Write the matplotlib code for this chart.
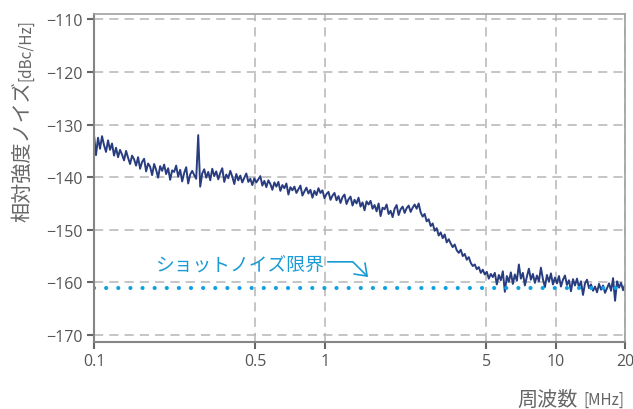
import numpy as np
import matplotlib
matplotlib.use("Agg")
import matplotlib.pyplot as plt

plt.rcParams['font.family'] = ['Noto Sans CJK JP', 'DejaVu Sans']

# 相対強度ノイズ [dBc/Hz], 0.1 MHz -> 20 MHz (log spaced sampling)
rin = [
    -132.0, -135.8, -132.5, -134.6, -132.2, -133.9, -135.2, -133.0, -134.8, -133.6,
    -135.9, -134.4, -136.2, -134.8, -135.7, -136.8, -135.0, -136.3, -137.5, -135.9,
    -136.6, -137.8, -136.2, -138.4, -137.1, -136.5, -138.9, -137.4, -138.0, -139.6,
    -137.5, -138.6, -140.1, -137.9, -138.8, -137.6, -139.4, -138.3, -140.5, -138.7,
    -139.0, -137.8, -139.9, -138.6, -140.8, -139.2, -138.1, -141.2, -139.5, -138.8,
    -139.6, -140.3, -132.0, -141.8, -139.3, -138.5, -140.1, -139.0, -140.6, -138.4,
    -139.8, -138.9, -140.4, -139.2, -138.3, -140.9, -139.5, -140.2, -138.8, -139.9,
    -141.3, -139.4, -140.6, -139.7, -141.0, -140.1, -139.3, -140.9, -140.3, -141.5,
    -140.2, -141.0, -140.4, -139.8, -141.6, -140.7, -141.9, -140.6, -141.3, -142.4,
    -141.0, -141.8, -140.9, -142.6, -141.5, -142.1, -141.2, -143.3, -141.9, -142.5,
    -141.8, -143.0, -142.3, -141.6, -143.5, -142.7, -142.0, -143.1, -142.4, -143.9,
    -142.6, -143.4, -142.1, -143.0, -142.5, -144.0, -143.2, -142.8, -144.3, -143.5,
    -143.0, -144.4, -143.6, -144.9, -143.8, -143.3, -145.1, -144.2, -143.7, -145.4,
    -144.3, -145.0, -143.9, -145.6, -144.8, -146.3, -144.6, -145.2, -144.5, -146.0,
    -145.3, -146.5, -145.0, -147.4, -145.8, -146.1, -145.2, -147.0, -146.4, -147.6,
    -146.0, -145.3, -147.2, -146.1, -145.6, -146.8, -145.9, -145.4, -146.6, -145.8,
    -145.2, -146.0, -145.0, -146.7, -147.5, -147.0, -148.4, -148.0, -149.3, -148.8,
    -150.2, -149.7, -151.1, -150.5, -151.6, -150.9, -152.4, -151.8, -152.6, -153.3,
    -152.8, -153.9, -154.4, -153.8, -155.0, -154.6, -155.7, -155.2, -156.3, -156.9,
    -156.6, -157.5, -157.1, -158.2, -157.6, -158.5, -158.0, -159.3, -158.4, -159.0,
    -158.2, -160.4, -158.6, -159.6, -157.9, -161.8, -158.8, -159.9, -158.1, -160.3,
    -158.5, -159.7, -156.6, -159.3, -158.2, -160.6, -158.9, -157.4, -159.5, -158.4,
    -160.1, -158.7, -159.8, -157.2, -159.4, -160.9, -158.6, -159.9, -158.3, -160.4,
    -159.1, -160.2, -158.8, -160.8, -159.5, -158.7, -160.5, -159.6, -161.7, -159.4,
    -160.6, -159.3, -160.9, -159.8, -162.4, -160.2, -159.5, -161.1, -160.4, -161.6,
    -160.8, -161.9, -160.3, -161.4, -160.6, -162.0, -161.1, -160.2, -161.6, -159.2,
    -163.5, -159.8, -161.0, -160.1, -161.5, -160.4,
]
freq = np.geomspace(0.1, 20, len(rin))

shot_limit = -161.0
x_ticks = [0.1, 0.5, 1, 5, 10, 20]
x_labels = ['0.1', '0.5', '1', '5', '10', '20']
y_ticks = [-170, -160, -150, -140, -130, -120, -110]

fig = plt.figure(figsize=(6.33, 4.10), dpi=100)
ax = fig.add_axes([0.1485, 0.164, 0.839, 0.799])

ax.plot(freq, rin, color='#283c80', lw=1.4)
ax.axhline(shot_limit, color='#12a0e4', lw=3.0, ls=(0, (0.01, 2.9)),
           dash_capstyle='round')

ax.set_xscale('log')
ax.set_xlim(0.1, 20)
ax.set_ylim(-171.3, -109.0)
ax.set_xticks(x_ticks)
ax.set_xticklabels(x_labels)
ax.minorticks_off()
ax.set_yticks(y_ticks)
ax.set_yticklabels(['\u2212%d' % abs(v) for v in y_ticks])

ax.grid(True, color='#b5b5b5', lw=1.1, ls=(0, (6, 4)))
ax.set_axisbelow(True)
ax.tick_params(labelsize=11.5, labelcolor='#555555', color='#666666',
               length=5, width=1.5, pad=3)
for lab in ax.get_xticklabels() + ax.get_yticklabels():
    lab.set_family(['Open Sans', 'DejaVu Sans'])
for s in ['left', 'bottom']:
    ax.spines[s].set_color('#858585')
    ax.spines[s].set_linewidth(1.5)
for s in ['top', 'right']:
    ax.spines[s].set_color('#a0a0a0')
    ax.spines[s].set_linewidth(1.2)

# shot noise annotation
ax.text(0.184, -156.5, 'ショットノイズ限界', color='#1a9bd6', fontsize=13.5,
        ha='left', va='center')
ax.annotate('', xy=(1.54, -159.0), xytext=(1.03, -156.1),
            arrowprops=dict(arrowstyle='->,head_length=0.55,head_width=0.4',
                            color='#1a9bd6', lw=1.2, mutation_scale=14,
                            connectionstyle='angle,angleA=0,angleB=-45,rad=0',
                            shrinkA=0, shrinkB=0))

# axis labels
fig.text(23 / 633, 1 - 222 / 410, '相対強度ノイズ', rotation=90, fontsize=14.5,
         color='#666666', ha='center', va='bottom')
fig.text(26 / 633, 1 - 81 / 410, '[dBc/Hz]', rotation=90, fontsize=11,
         color='#666666', ha='center', va='bottom')
fig.text(578 / 633, 1 - 400 / 410, '周波数', fontsize=14.5, color='#666666',
         ha='right', va='center')
fig.text(624 / 633, 1 - 400 / 410, '[MHz]', fontsize=11, color='#666666',
         ha='right', va='center')

fig.savefig('out.png', dpi=100)
